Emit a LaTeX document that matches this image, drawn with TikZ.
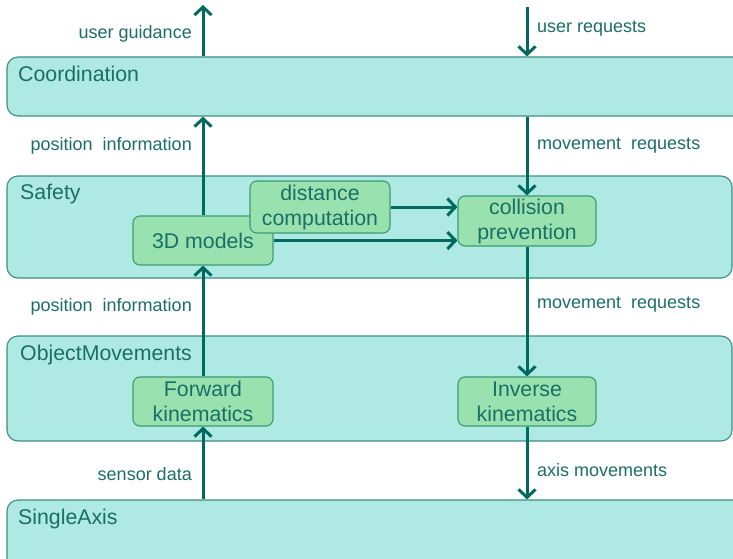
\documentclass[tikz,border=0pt]{standalone}
\usepackage{fontspec}
\setmainfont{Liberation Sans}
\usetikzlibrary{arrows.meta}
\definecolor{layerfill}{RGB}{174,233,228}
\definecolor{layerdraw}{RGB}{62,140,134}
\definecolor{boxfill}{RGB}{153,226,175}
\definecolor{boxdraw}{RGB}{58,156,116}
\definecolor{arrowcol}{RGB}{0,106,95}
\definecolor{txtcol}{RGB}{27,110,102}
\tikzset{
  layer/.style={draw=layerdraw, fill=layerfill, line width=1.1pt, rounded corners=11pt, inner sep=0pt},
  layername/.style={anchor=west, text=txtcol, font=\fontsize{21.3}{24}\selectfont, inner sep=0pt},
  compbox/.style={draw=boxdraw, fill=boxfill, line width=1.1pt, rounded corners=7pt, inner sep=0pt, align=center, text=txtcol, font=\fontsize{21.3}{25}\selectfont},
  flow/.style={draw=arrowcol, line width=3pt, -{Straight Barb[length=8pt,width=17pt,line width=3pt]}},
  lbl/.style={text=txtcol, font=\fontsize{18}{21}\selectfont, inner sep=0pt},
}
\begin{document}
\begin{tikzpicture}[x=1pt,y=-1pt]
\clip (0,0) rectangle (733,559);
\fill[white] (0,0) rectangle (733,559);
% layers
\node[layer, minimum width=738pt, minimum height=59pt] (coord) at (376,86.5) {};
\node[layer, minimum width=725pt, minimum height=102pt] (safety) at (369.5,227) {};
\node[layer, minimum width=725pt, minimum height=105pt] (objmov) at (369.5,388.5) {};
\node[layer, minimum width=738pt, minimum height=75pt] (single) at (376,537.5) {};
\node[layername] (coordname) at (18,74) {Coordination};
\node[layername] (safetyname) at (20,194) {Safety};
\node[layername] (objmovname) at (20,355) {ObjectMovements};
\node[layername] (singlename) at (18,519) {SingleAxis};
% components
\node[compbox, minimum width=140pt, minimum height=49pt] (models) at (203,240.5) {3D models};
\node[compbox, minimum width=140pt, minimum height=52pt] (dist) at (320,207) {distance\\computation};
\node[compbox, minimum width=138pt, minimum height=50pt] (coll) at (527,221) {collision\\prevention};
\node[compbox, minimum width=140pt, minimum height=49pt] (fwd) at (203,401.5) {Forward\\kinematics};
\node[compbox, minimum width=138pt, minimum height=49pt] (inv) at (527,401.5) {Inverse\\kinematics};
% free ends
\coordinate (ug) at (203,5);
\coordinate (ur) at (527,7);
% connectors
\draw[flow] (models.north) -- (models.north |- coord.south);
\draw[flow] (models.north |- coord.north) -- (ug);
\draw[flow] (ur) -- (coll.north |- coord.north);
\draw[flow] (coll.north |- coord.south) -- (coll.north);
\draw[flow] (coll.south) -- (inv.north);
\draw[flow] (inv.south) -- (inv.south |- single.north);
\draw[flow] (fwd.north) -- (models.south);
\draw[flow] (fwd.south |- single.north) -- (fwd.south);
\draw[flow] (dist.east) -- (coll.west |- dist.east);
\draw[flow] (models.east) -- (coll.west |- models.east);
% labels
\node[lbl, anchor=east] (lug) at (192,34) {user guidance};
\node[lbl, anchor=east] (lpi1) at (192,146) {position\ \ information};
\node[lbl, anchor=east] (lpi2) at (192,307) {position\ \ information};
\node[lbl, anchor=east] (lsd) at (192,474) {sensor data};
\node[lbl, anchor=west] (lur) at (537,29) {user requests};
\node[lbl, anchor=west] (lmr1) at (537,146) {movement\ \ requests};
\node[lbl, anchor=west] (lmr2) at (537,305) {movement\ \ requests};
\node[lbl, anchor=west] (lam) at (537,470) {axis movements};
\end{tikzpicture}
\end{document}
